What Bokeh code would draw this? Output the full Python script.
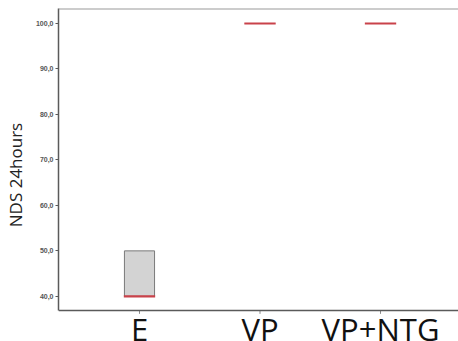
from bokeh.plotting import figure
from bokeh.models import FixedTicker, ColumnDataSource, Span
from bokeh.core.properties import value
from bokeh.transform import dodge
from bokeh.embed import file_html
from bokeh.resources import INLINE

categories = ["E", "VP", "VP+NTG"]
q1 = [40.0, 100.0, 100.0]
q3 = [50.0, 100.0, 100.0]
median = [40.0, 100.0, 100.0]
y_ticks = [40, 50, 60, 70, 80, 90, 100]
y_tick_labels = ["40,0", "50,0", "60,0", "70,0", "80,0", "90,0", "100,0"]

AXIS_Y = 36.9        # where the category axis line sits
TOP_Y = 103.3        # top of the plotting area
VIEW_BOTTOM = 30.07  # extra room below the axis for the category labels
LABEL_Y = 32.8       # baseline of the category labels
TICK_LEN = 0.75

xs = [i + 1 for i in range(len(categories))]
src = ColumnDataSource(dict(x=xs, q1=q1, q3=q3, med=median, cat=categories,
                            ly=[LABEL_Y] * len(xs),
                            t0=[AXIS_Y] * len(xs), t1=[AXIS_Y - TICK_LEN] * len(xs)))

p = figure(width=458, height=341, output_backend="svg", toolbar_location=None,
           x_range=(0.328, 3.647), y_range=(VIEW_BOTTOM, TOP_Y),
           min_border_left=58, min_border_top=8, min_border_right=0, min_border_bottom=0)
p.background_fill_color = "white"
p.border_fill_color = "white"
p.outline_line_color = None
p.xgrid.visible = False
p.ygrid.visible = False
p.xaxis.visible = False

p.vbar(x="x", bottom="q1", top="q3", width=0.25, source=src,
       fill_color="#d3d3d3", line_color="#7a7a7a", line_width=1)
p.segment(x0=dodge("x", -0.13, range=p.x_range), x1=dodge("x", 0.13, range=p.x_range),
          y0="med", y1="med", source=src, line_color="#c9424a", line_width=2.2)

# frame top line and category axis line
p.add_layout(Span(location=TOP_Y, dimension="width", line_color="#9a9a9a", line_width=2))
p.add_layout(Span(location=AXIS_Y, dimension="width", line_color="#5a5a5a", line_width=1.5))
# category ticks
p.segment(x0="x", x1="x", y0="t0", y1="t1", source=src, line_color="#8a8a8a", line_width=1)
# category labels
p.text(x="x", y="ly", text="cat", source=src, text_font=value("Open Sans"),
       text_font_size="31px", text_color="#111111", text_align="center",
       text_baseline="alphabetic")

p.yaxis.bounds = (AXIS_Y, TOP_Y)
p.yaxis.ticker = FixedTicker(ticks=y_ticks)
p.yaxis.major_label_overrides = {t: l for t, l in zip(y_ticks, y_tick_labels)}
p.yaxis.major_label_text_font = "Arial"
p.yaxis.major_label_text_font_size = "7px"
p.yaxis.major_label_text_font_style = "bold"
p.yaxis.major_label_text_color = "#555555"
p.yaxis.major_tick_out = 3
p.yaxis.major_tick_in = 0
p.yaxis.minor_tick_out = 0
p.yaxis.minor_tick_in = 0
p.yaxis.major_label_standoff = 2
p.yaxis.axis_line_color = "#5a5a5a"
p.yaxis.axis_line_width = 1.5
p.yaxis.major_tick_line_color = "#5a5a5a"
p.yaxis.axis_label = "NDS 24hours"
p.yaxis.axis_label_text_font = "Open Sans"
p.yaxis.axis_label_text_font_size = "17px"
p.yaxis.axis_label_text_font_style = "normal"
p.yaxis.axis_label_text_color = "#222222"
p.yaxis.axis_label_standoff = 6

open("out.html", "w").write(file_html(p, INLINE))
